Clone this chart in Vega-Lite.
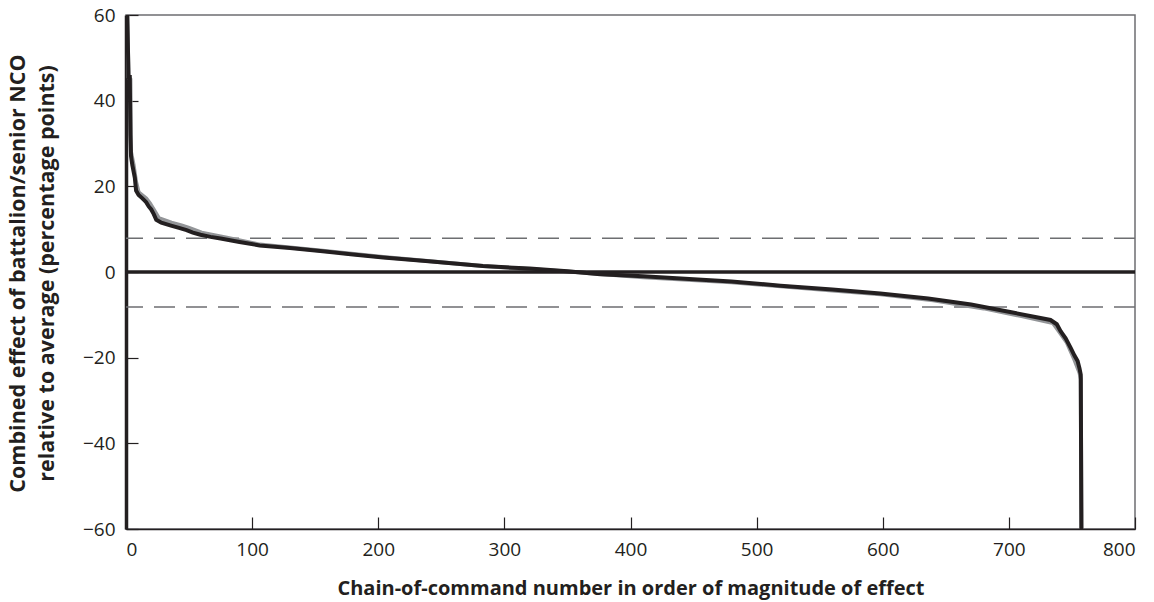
{
  "$schema": "https://vega.github.io/schema/vega-lite/v6.json",
  "autosize": "none",
  "width": 1009,
  "height": 514,
  "padding": {"left": 126, "top": 15, "right": 19, "bottom": 73},
  "background": "white",
  "config": {
    "view": {"stroke": "#6d6e71", "strokeWidth": 1.5},
    "font": "Open Sans",
    "axis": {
      "labelFont": "Open Sans",
      "labelFontSize": 19,
      "labelColor": "#231f20",
      "titleFont": "Open Sans",
      "titleFontSize": 20,
      "titleFontWeight": "bold",
      "titleColor": "#231f20",
      "grid": false,
      "tickColor": "#231f20",
      "tickWidth": 1.2,
      "tickSize": -12
    }
  },
  "datasets": {
    "curve": [
      {"x": 1, "y": 60, "series": "black"},
      {"x": 2, "y": 45.5, "series": "black"},
      {"x": 3, "y": 45.5, "series": "black"},
      {"x": 3.5, "y": 32, "series": "black"},
      {"x": 4, "y": 27, "series": "black"},
      {"x": 5, "y": 25, "series": "black"},
      {"x": 7, "y": 22, "series": "black"},
      {"x": 8, "y": 19, "series": "black"},
      {"x": 10, "y": 18, "series": "black"},
      {"x": 13, "y": 17.2, "series": "black"},
      {"x": 16, "y": 16.3, "series": "black"},
      {"x": 18, "y": 15.3, "series": "black"},
      {"x": 20, "y": 14.6, "series": "black"},
      {"x": 22, "y": 13.5, "series": "black"},
      {"x": 24, "y": 12.2, "series": "black"},
      {"x": 28, "y": 11.5, "series": "black"},
      {"x": 35, "y": 10.9, "series": "black"},
      {"x": 42, "y": 10.3, "series": "black"},
      {"x": 48, "y": 9.8, "series": "black"},
      {"x": 53, "y": 9.2, "series": "black"},
      {"x": 59, "y": 8.7, "series": "black"},
      {"x": 67, "y": 8.2, "series": "black"},
      {"x": 75, "y": 7.8, "series": "black"},
      {"x": 90, "y": 7.0, "series": "black"},
      {"x": 106, "y": 6.2, "series": "black"},
      {"x": 130, "y": 5.6, "series": "black"},
      {"x": 154, "y": 4.9, "series": "black"},
      {"x": 180, "y": 4.1, "series": "black"},
      {"x": 204, "y": 3.4, "series": "black"},
      {"x": 240, "y": 2.5, "series": "black"},
      {"x": 283, "y": 1.4, "series": "black"},
      {"x": 320, "y": 0.8, "series": "black"},
      {"x": 350, "y": 0.2, "series": "black"},
      {"x": 376, "y": -0.5, "series": "black"},
      {"x": 410, "y": -1.0, "series": "black"},
      {"x": 440, "y": -1.5, "series": "black"},
      {"x": 480, "y": -2.2, "series": "black"},
      {"x": 519, "y": -3.2, "series": "black"},
      {"x": 560, "y": -4.1, "series": "black"},
      {"x": 598, "y": -5.0, "series": "black"},
      {"x": 636, "y": -6.2, "series": "black"},
      {"x": 670, "y": -7.6, "series": "black"},
      {"x": 702, "y": -9.4, "series": "black"},
      {"x": 733, "y": -11.2, "series": "black"},
      {"x": 738, "y": -12.2, "series": "black"},
      {"x": 741, "y": -13.8, "series": "black"},
      {"x": 745, "y": -15.5, "series": "black"},
      {"x": 749, "y": -17.7, "series": "black"},
      {"x": 752, "y": -19.5, "series": "black"},
      {"x": 754.5, "y": -20.8, "series": "black"},
      {"x": 756, "y": -22.5, "series": "black"},
      {"x": 757, "y": -24, "series": "black"},
      {"x": 757.5, "y": -60, "series": "black"},
      {"x": 1, "y": 60, "series": "gray"},
      {"x": 2, "y": 45.5, "series": "gray"},
      {"x": 3.5, "y": 45, "series": "gray"},
      {"x": 4, "y": 28, "series": "gray"},
      {"x": 6, "y": 25, "series": "gray"},
      {"x": 8, "y": 21, "series": "gray"},
      {"x": 10, "y": 18.6, "series": "gray"},
      {"x": 16, "y": 17.2, "series": "gray"},
      {"x": 19, "y": 16, "series": "gray"},
      {"x": 22, "y": 14.6, "series": "gray"},
      {"x": 26, "y": 12.6, "series": "gray"},
      {"x": 36, "y": 11.5, "series": "gray"},
      {"x": 44, "y": 10.9, "series": "gray"},
      {"x": 50, "y": 10.3, "series": "gray"},
      {"x": 60, "y": 9.2, "series": "gray"},
      {"x": 70, "y": 8.6, "series": "gray"},
      {"x": 80, "y": 8.0, "series": "gray"},
      {"x": 106, "y": 6.4, "series": "gray"},
      {"x": 154, "y": 5.0, "series": "gray"},
      {"x": 204, "y": 3.5, "series": "gray"},
      {"x": 283, "y": 1.4, "series": "gray"},
      {"x": 350, "y": 0.1, "series": "gray"},
      {"x": 410, "y": -1.2, "series": "gray"},
      {"x": 480, "y": -2.4, "series": "gray"},
      {"x": 560, "y": -4.3, "series": "gray"},
      {"x": 598, "y": -5.2, "series": "gray"},
      {"x": 640, "y": -6.6, "series": "gray"},
      {"x": 680, "y": -8.5, "series": "gray"},
      {"x": 710, "y": -10.3, "series": "gray"},
      {"x": 735, "y": -11.9, "series": "gray"},
      {"x": 741, "y": -14.4, "series": "gray"},
      {"x": 746, "y": -16.5, "series": "gray"},
      {"x": 752, "y": -20.5, "series": "gray"},
      {"x": 756, "y": -23.5, "series": "gray"},
      {"x": 757, "y": -25, "series": "gray"},
      {"x": 757.5, "y": -60, "series": "gray"}
    ],
    "refs": [
      {"y": 7.9, "kind": "bound"},
      {"y": -8.2, "kind": "bound"}
    ],
    "zero": [
      {"y": 0}
    ]
  },
  "layer": [
    {
      "data": {"name": "refs"},
      "mark": {"type": "rule", "color": "#6d6e71", "strokeWidth": 1.5, "strokeDash": [21, 11]},
      "encoding": {
        "y": {"field": "y", "type": "quantitative", "scale": {"domain": [-60, 60]}}
      }
    },
    {
      "data": {"name": "curve"},
      "transform": [{"filter": "datum.series === 'gray'"}],
      "mark": {"type": "line", "color": "#939598", "strokeWidth": 4, "clip": true},
      "encoding": {
        "x": {"field": "x", "type": "quantitative"},
        "y": {"field": "y", "type": "quantitative"}
      }
    },
    {
      "data": {"name": "zero"},
      "mark": {"type": "rule", "color": "#231f20", "strokeWidth": 3.5},
      "encoding": {
        "y": {"field": "y", "type": "quantitative"}
      }
    },
    {
      "data": {"name": "curve"},
      "transform": [{"filter": "datum.series === 'black'"}],
      "mark": {"type": "line", "color": "#231f20", "strokeWidth": 4, "clip": true},
      "encoding": {
        "x": {
          "field": "x", "type": "quantitative",
          "scale": {"domain": [0, 800], "nice": false},
          "axis": {
            "title": "Chain-of-command number in order of magnitude of effect",
            "values": [0, 100, 200, 300, 400, 500, 600, 700, 800],
            "domainColor": "#231f20",
            "domainWidth": 1.5,
            "labelPadding": 23,
            "titleY": 65,
            "titleBaseline": "alphabetic"
          }
        },
        "y": {
          "field": "y", "type": "quantitative",
          "scale": {"domain": [-60, 60], "nice": false},
          "axis": {
            "title": ["Combined effect of battalion/senior NCO", "relative to average (percentage points)"],
            "values": [-60, -40, -20, 0, 20, 40, 60],
            "domainColor": "#231f20",
            "domainWidth": 3.5,
            "labelPadding": 23,
            "titleAngle": -90,
            "titleX": -108,
            "titleY": 258,
            "titleAlign": "center",
            "titleBaseline": "middle",
            "titleLineHeight": 29,
            "titleFontSize": 21.5
          }
        }
      }
    }
  ]
}
